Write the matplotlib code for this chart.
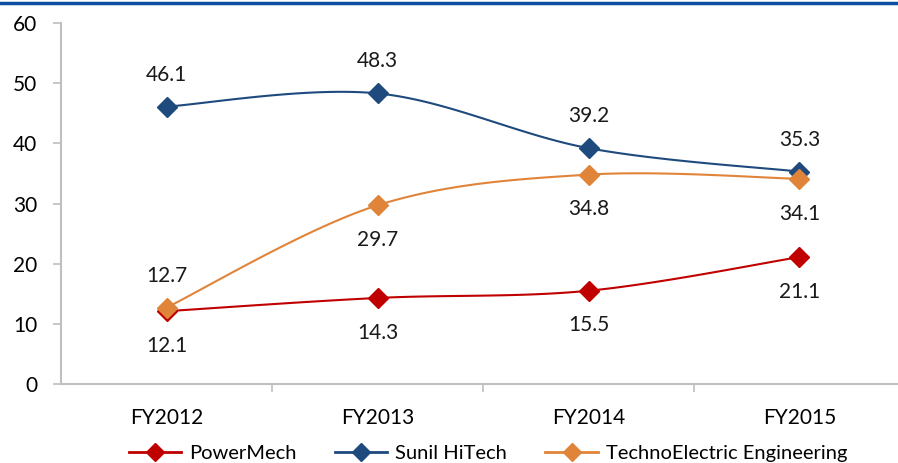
import numpy as np
import matplotlib.pyplot as plt
from matplotlib.lines import Line2D

years = ["FY2012", "FY2013", "FY2014", "FY2015"]
powermech = [12.1, 14.3, 15.5, 21.1]
sunil = [46.1, 48.3, 39.2, 35.3]
techno = [12.7, 29.7, 34.8, 34.1]

# label placement: +1 above the marker, -1 below
powermech_pos = [-1, -1, -1, -1]
sunil_pos = [1, 1, 1, 1]
techno_pos = [1, -1, -1, -1]

RED = "#C00000"
BLUE = "#1F4A7E"
ORANGE = "#E0843A"

plt.rcParams['font.family'] = ['Lato', 'DejaVu Sans']


def smooth(xs, ys, n=40):
    # cardinal (Catmull-Rom) spline through the points, like Excel's smoothed line
    px = np.concatenate([[xs[0]], xs, [xs[-1]]]).astype(float)
    py = np.concatenate([[ys[0]], ys, [ys[-1]]]).astype(float)
    out_x, out_y = [], []
    t = np.linspace(0, 1, n)
    for i in range(1, len(px) - 2):
        p0x, p1x, p2x, p3x = px[i - 1:i + 3]
        p0y, p1y, p2y, p3y = py[i - 1:i + 3]
        c1x, c1y = p1x + (p2x - p0x) / 6, p1y + (p2y - p0y) / 6
        c2x, c2y = p2x - (p3x - p1x) / 6, p2y - (p3y - p1y) / 6
        bx = (1 - t) ** 3 * p1x + 3 * (1 - t) ** 2 * t * c1x + 3 * (1 - t) * t ** 2 * c2x + t ** 3 * p2x
        by = (1 - t) ** 3 * p1y + 3 * (1 - t) ** 2 * t * c1y + 3 * (1 - t) * t ** 2 * c2y + t ** 3 * p2y
        out_x.extend(bx)
        out_y.extend(by)
    return np.array(out_x), np.array(out_y)


fig = plt.figure(figsize=(8.98, 4.63), dpi=100)
ax = fig.add_axes([61 / 898, 79 / 463, 844 / 898, 361 / 463])

x = np.arange(len(years))
series = [
    ("PowerMech", powermech, powermech_pos, RED),
    ("Sunil HiTech", sunil, sunil_pos, BLUE),
    ("TechnoElectric Engineering", techno, techno_pos, ORANGE),
]
handles = []
for name, vals, pos, col in series:
    sx, sy = smooth(x, vals)
    ax.plot(sx, sy, color=col, lw=1.5, zorder=2)
    ax.plot(x, vals, ls='none', marker='D', ms=10, color=col, zorder=3)
    for xi, v, p in zip(x, vals, pos):
        off = 23 if p > 0 else -25
        ax.annotate(f"{v:.1f}", (xi, v), xytext=(0, off), textcoords='offset points',
                    ha='center', va='center', fontsize=15, color='#1a1a1a')
    handles.append(Line2D([], [], color=col, lw=2, marker='D', ms=9, label=name))

ax.set_xlim(-0.5, 3.5)
ax.set_ylim(0, 60)
ax.set_yticks(range(0, 61, 10))
ax.set_xticks(x)
ax.set_xticklabels(years)
ax.set_xticks(np.arange(0.5, 3.5, 1), minor=True)
ax.tick_params(axis='x', which='major', length=0, pad=17, labelsize=15)
ax.tick_params(axis='x', which='minor', length=6, width=1.2, color='#BFBFBF')
ax.tick_params(axis='y', length=6, width=1.2, color='#BFBFBF', pad=11, labelsize=15)
for s in ['top', 'right']:
    ax.spines[s].set_visible(False)
for s in ['left', 'bottom']:
    ax.spines[s].set_color('#BFBFBF')
    ax.spines[s].set_linewidth(1.5)

# blue rule along the top edge
fig.add_artist(Line2D([0, 1], [1 - 3 / 463, 1 - 3 / 463], transform=fig.transFigure,
                      color='#0B4EA2', lw=2.5))

fig.legend(handles=handles, ncol=3, loc='center', bbox_to_anchor=(488 / 898, 1 - 453 / 463),
           frameon=False, fontsize=14.5, handlelength=2.6, columnspacing=1.9, handletextpad=0.4)

fig.savefig("out.png", dpi=100)
